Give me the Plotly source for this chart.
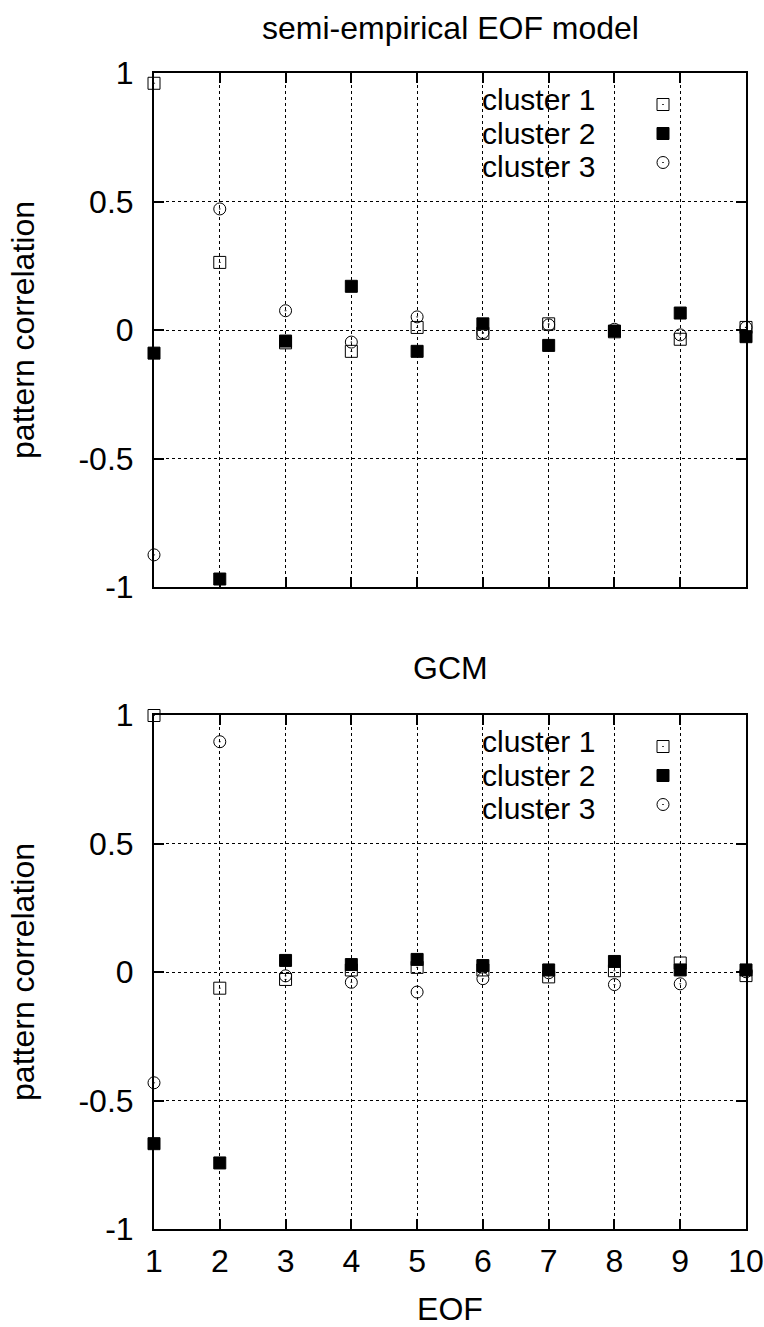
import plotly.graph_objects as go

eof = [1, 2, 3, 4, 5, 6, 7, 8, 9, 10]
series_names = ["cluster 1", "cluster 2", "cluster 3"]

# semi-empirical EOF model
semi_c1 = [0.96, 0.263, -0.05, -0.083, 0.01, -0.013, 0.024, -0.007, -0.036, 0.01]
semi_c2 = [-0.09, -0.969, -0.043, 0.17, -0.083, 0.024, -0.06, -0.004, 0.066, -0.026]
semi_c3 = [-0.875, 0.471, 0.075, -0.047, 0.051, -0.01, 0.02, 0.003, -0.019, 0.01]

# GCM
gcm_c1 = [0.998, -0.063, -0.029, 0.008, 0.018, 0.008, -0.019, 0.005, 0.035, -0.014]
gcm_c2 = [-0.668, -0.743, 0.045, 0.029, 0.049, 0.025, 0.008, 0.041, 0.008, 0.008]
gcm_c3 = [-0.431, 0.896, -0.015, -0.04, -0.078, -0.026, -0.003, -0.049, -0.046, 0.001]

titles = ["semi-empirical EOF model", "GCM"]
y_ticks = [-1, -0.5, 0, 0.5, 1]
y_ticklabels = ["-1", "-0.5", "0", "0.5", "1"]
x_label = "EOF"
y_label = "pattern correlation"

FONT = "Liberation Sans, Arial, Helvetica, sans-serif"
FS = 32
LEG_FS = 30
LEG_GAP = 33.5
W, H = 764, 1327
X0, X1 = 154, 746
PANELS = [(73, 587), (715, 1229)]

symbols = ["square-open-dot", "square", "circle-open-dot"]

fig = go.Figure()

data_sets = [[semi_c1, semi_c2, semi_c3], [gcm_c1, gcm_c2, gcm_c3]]
for p, sets in enumerate(data_sets):
    xa = "x" if p == 0 else "x2"
    ya = "y" if p == 0 else "y2"
    lg = "legend" if p == 0 else "legend2"
    for i, vals in enumerate(sets):
        fig.add_trace(go.Scatter(
            x=eof, y=vals, mode="markers", xaxis=xa, yaxis=ya,
            name=" ", legend=lg, cliponaxis=False,
            marker=dict(symbol=symbols[i], size=12, color="black",
                        line=dict(color="black", width=1)),
            showlegend=True,
        ))

def px_x(x):
    return x / W

def px_y(y):
    return 1 - y / H

axis_common = dict(
    automargin=False,
    showline=True, linecolor="black", linewidth=2, mirror="ticks",
    ticks="inside", ticklen=10, tickwidth=2, tickcolor="black",
    showgrid=True, gridcolor="black", gridwidth=1, griddash="dot",
    zeroline=False, tickfont=dict(family=FONT, size=FS, color="black"),
)

layout = dict(
    template="none",
    width=W, height=H, margin=dict(l=0, r=0, t=0, b=0, pad=0),
    paper_bgcolor="white", plot_bgcolor="white",
    font=dict(family=FONT, size=FS, color="black"),
    showlegend=True,
)

for p, (top, bot) in enumerate(PANELS):
    xs = "" if p == 0 else "2"
    layout["xaxis" + xs] = dict(
        axis_common, domain=[px_x(X0), px_x(X1)], range=[1, 10],
        tickvals=eof, ticktext=[str(v) for v in eof],
        showticklabels=(p == 1), anchor="y" + xs,
        ticklabelstandoff=3,
        title=dict(text=x_label if p == 1 else "", standoff=23,
                   font=dict(family=FONT, size=FS)),
    )
    layout["yaxis" + xs] = dict(
        axis_common, domain=[px_y(bot), px_y(top)], range=[-1, 1],
        tickvals=y_ticks, ticktext=y_ticklabels, anchor="x" + xs,
        ticklabelstandoff=12,
        title=dict(text=y_label, standoff=34, font=dict(family=FONT, size=FS)),
    )
    lkey = "legend" if p == 0 else "legend2"
    layout[lkey] = dict(
        x=px_x(643), y=px_y(top + 12), xanchor="left", yanchor="top",
        bgcolor="rgba(0,0,0,0)", borderwidth=0,
        font=dict(family=FONT, size=20),
        itemwidth=30, tracegroupgap=0,
    )

fig.update_layout(**layout)

annotations = []
shapes = []
title_offsets = [45, 47]
for p, (top, bot) in enumerate(PANELS):
    annotations.append(dict(
        text=titles[p], xref="paper", yref="paper",
        x=px_x((X0 + X1) / 2), y=px_y(top - title_offsets[p]),
        xanchor="center", yanchor="middle",
        showarrow=False, font=dict(family=FONT, size=FS),
    ))
    for i, nm in enumerate(series_names):
        annotations.append(dict(
            text=nm, xref="paper", yref="paper",
            x=px_x(597), y=px_y(top + 60 + LEG_GAP * (i - 1)),
            xanchor="right", yanchor="middle",
            showarrow=False, font=dict(family=FONT, size=LEG_FS),
        ))
    shapes.append(dict(
        type="rect", xref="paper", yref="paper", layer="between",
        x0=px_x(468), x1=px_x(700), y0=px_y(top + 108), y1=px_y(top + 2),
        fillcolor="white", line=dict(width=0),
    ))

fig.update_layout(annotations=annotations, shapes=shapes)

fig.write_html("out.html", config={"displayModeBar": False},
               post_script="document.body.style.margin='0';")
